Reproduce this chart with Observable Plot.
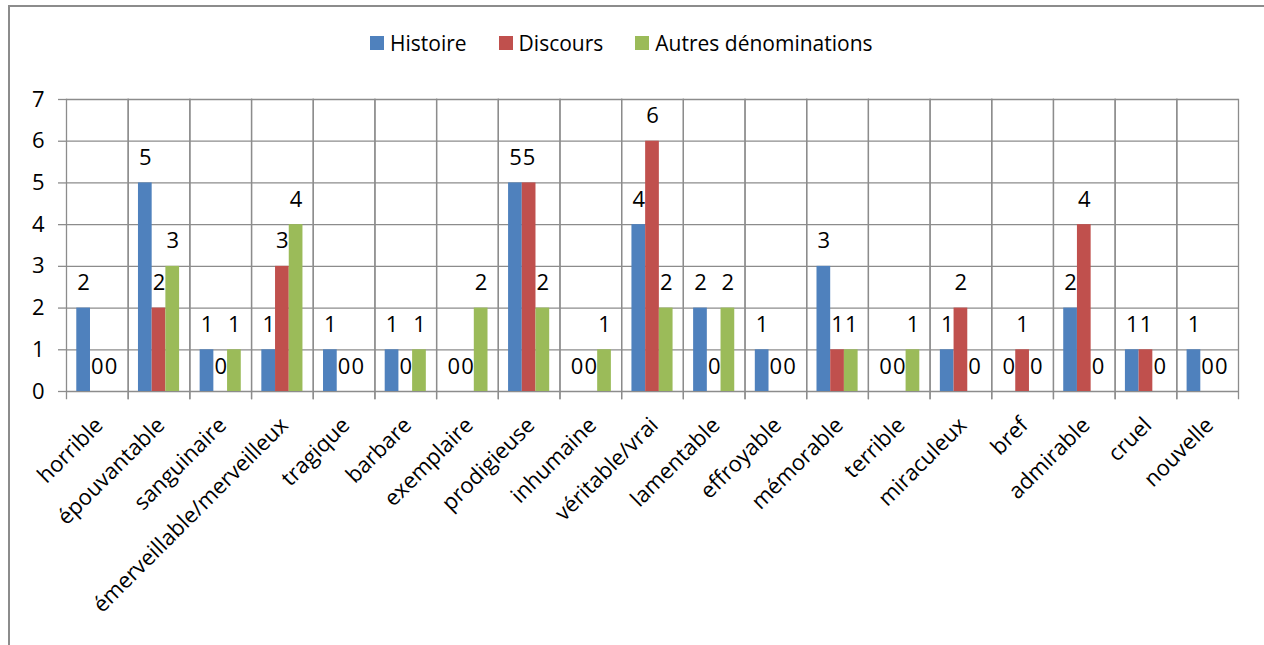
<!DOCTYPE html>
<html>
<head>
<meta charset="utf-8">
<script src="https://cdn.jsdelivr.net/npm/d3@7"></script>
<script src="https://cdn.jsdelivr.net/npm/@observablehq/plot@0.6"></script>
<style>
  body { margin: 0; background: #fff; font-family: "Open Sans", sans-serif; }
  #border { position: absolute; left: 8px; top: 5px; width: 1300px; height: 700px;
            border-left: 2px solid #8c8c8c; border-top: 2px solid #8c8c8c; pointer-events: none; }
  #legend { position: absolute; left: 370px; top: 29px; display: flex; align-items: center;
            font-size: 21px; color: #000; }
  #legend .item { display: flex; align-items: center; margin-right: 32px; }
  #legend .sw { width: 14px; height: 14px; margin-right: 6px; }
  #chart { position: absolute; left: 0; top: 80px; }
</style>
</head>
<body>
<div id="border"></div>
<div id="legend"></div>
<div id="chart"></div>
<script>
const categories = ["horrible","épouvantable","sanguinaire","émerveillable/merveilleux","tragique","barbare","exemplaire","prodigieuse","inhumaine","véritable/vrai","lamentable","effroyable","mémorable","terrible","miraculeux","bref","admirable","cruel","nouvelle"];
const series = ["Histoire", "Discours", "Autres dénominations"];
const colors = ["#4F81BD", "#C0504D", "#9BBB59"];
const histoire = [2,5,1,1,1,1,0,5,0,4,2,1,3,0,1,0,2,1,1];
const discours = [0,2,0,3,0,0,0,5,0,6,0,0,1,0,2,1,4,1,0];
const autres   = [0,3,1,4,0,1,2,2,1,2,2,0,1,1,0,0,0,0,0];
const yTicks = [0,1,2,3,4,5,6,7];

const valuesBySeries = [histoire, discours, autres];
const data = [];
categories.forEach((c, i) => {
  series.forEach((s, j) => data.push({category: c, series: s, value: valuesBySeries[j][i]}));
});

const legend = document.getElementById("legend");
series.forEach((s, j) => {
  const it = document.createElement("div");
  it.className = "item";
  it.innerHTML = `<span class="sw" style="background:${colors[j]}"></span><span>${s}</span>`;
  legend.appendChild(it);
});

const grid = "#8c8c8c";
const chart = Plot.plot({
  width: 1264,
  height: 565,
  marginTop: 19,
  marginBottom: 254,
  marginLeft: 66,
  marginRight: 26,
  style: {fontFamily: "'Open Sans', sans-serif", fontSize: "22px", color: "#000", background: "transparent", overflow: "visible"},
  fx: {domain: categories, padding: 0, round: false},
  x: {domain: series, paddingInner: 0, paddingOuter: 0.75, round: false, axis: null},
  y: {domain: [0, 7]},
  color: {domain: series, range: colors},
  marks: [
    Plot.gridY(yTicks, {stroke: grid, strokeOpacity: 1, strokeWidth: 1.3}),
    Plot.frame({anchor: "left", stroke: grid, strokeWidth: 1.3, insetBottom: -7}),
    Plot.frame({anchor: "right", stroke: grid, strokeWidth: 1.3, insetBottom: -7}),
    Plot.axisY(yTicks, {tickSize: 8, tickPadding: 14, fontSize: 22, label: null, stroke: grid, strokeWidth: 1.3, tickFormat: d => String(d)}),
    Plot.barY(data, {fx: "category", x: "series", y: "value", fill: "series"}),
    Plot.text(data, {fx: "category", x: "series", y: "value", text: d => String(d.value), dy: -25, fontSize: 22, fill: "#000"}),
    Plot.axisFx({anchor: "bottom", tickRotate: -45, tickSize: 0, tickPadding: 30, dx: 2, fontSize: 22, label: null})
  ]
});
document.getElementById("chart").appendChild(chart);
</script>
</body>
</html>
